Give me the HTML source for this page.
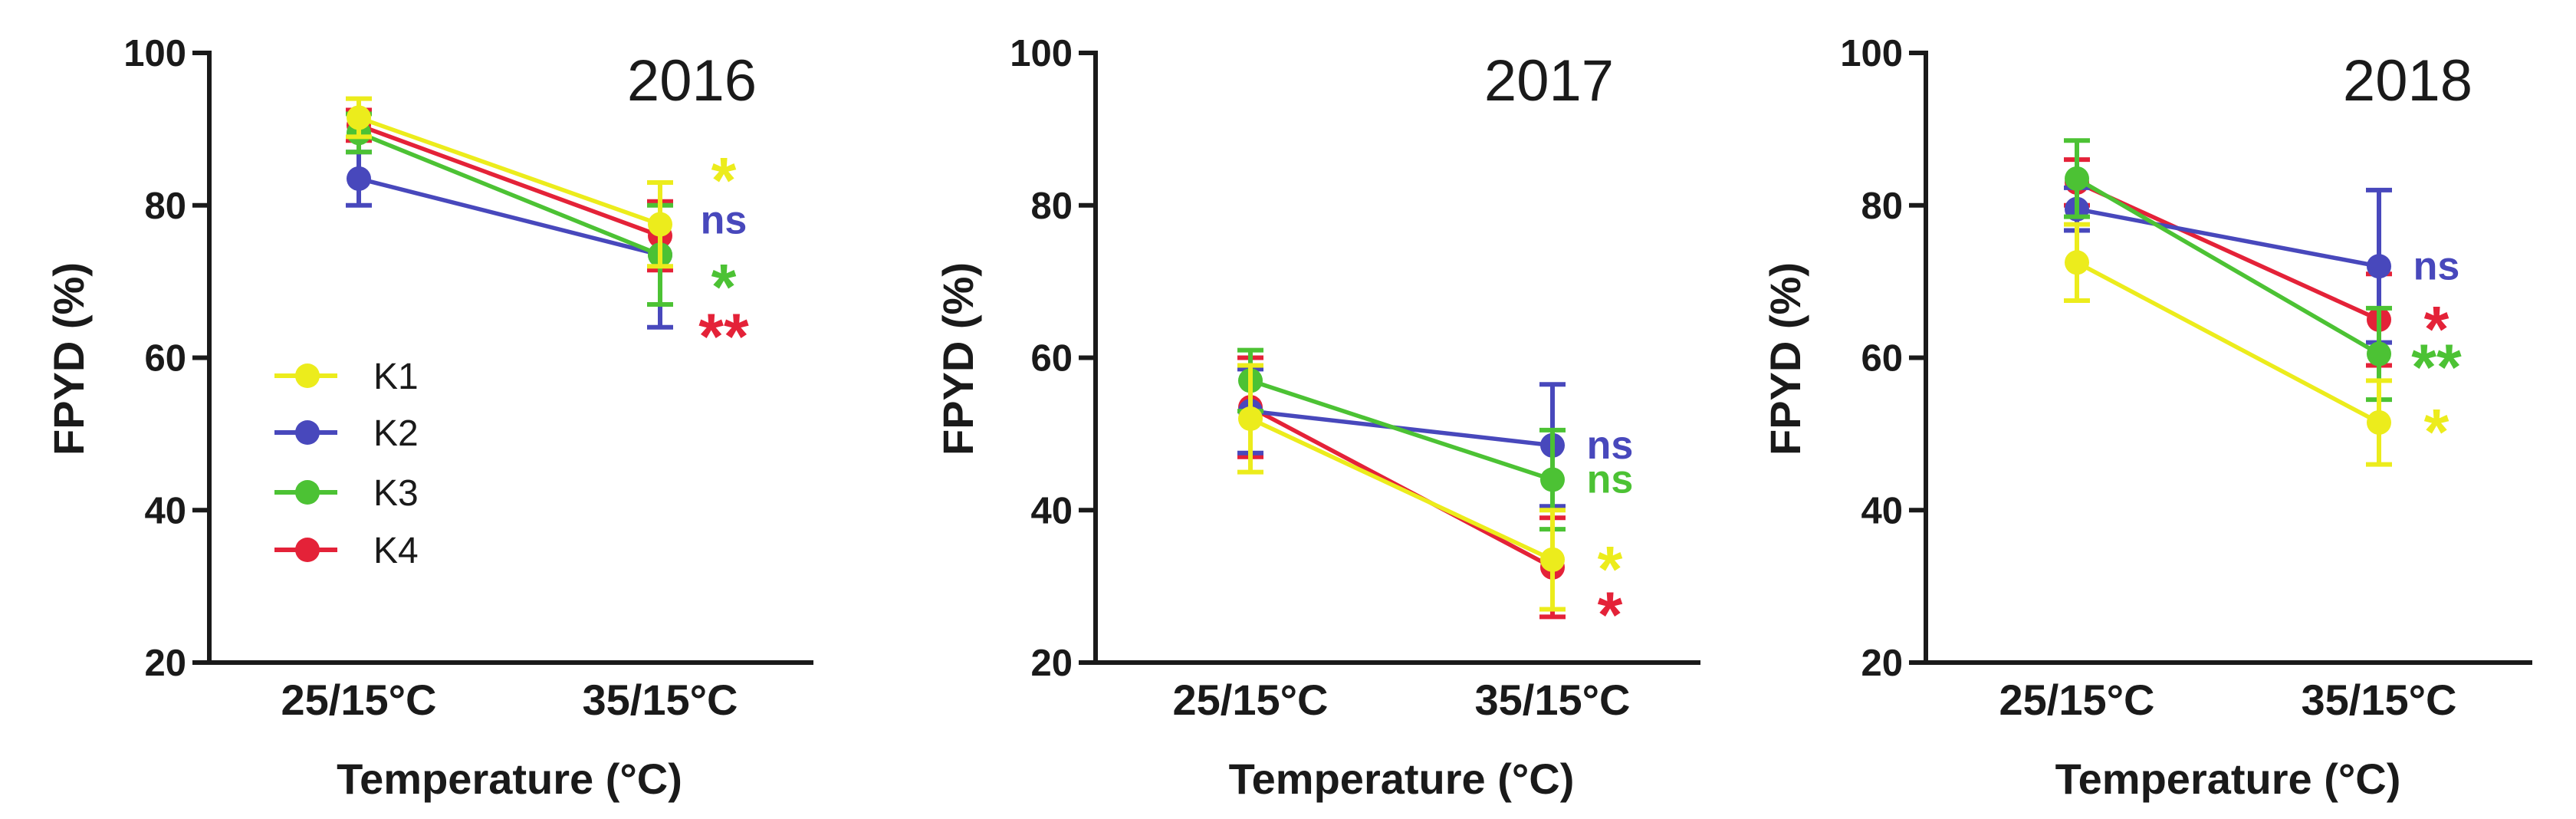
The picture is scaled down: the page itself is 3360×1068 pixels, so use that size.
<!DOCTYPE html>
<html><head><meta charset="utf-8"><style>
body{margin:0;background:#fff}
svg{display:block}
text{font-family:"Liberation Sans",Arial,sans-serif}
</style></head><body>
<svg id="chart" width="3360" height="1068" viewBox="0 0 3360 1068" xmlns="http://www.w3.org/2000/svg"></svg>
<script>
const categories = ["25/15°C","35/15°C"];
const seriesNames = ["K1","K2","K3","K4"];
const seriesColors = ["#ecec1c","#4848bc","#4cc234","#e42238"];
const yTicks = [20,40,60,80,100];
const years = ["2016","2017","2018"];
// values[series] = [v at 25/15, v at 35/15]
const values2016 = [[91.5,77.5],[83.5,73.5],[89.5,73.5],[90.5,76]];
const values2017 = [[52,33.5],[53,48.5],[57,44],[53.5,32.5]];
const values2018 = [[72.5,51.5],[79.5,72],[83.5,60.5],[83,65]];
const errors2016 = [[2.5,5.5],[3.5,9.5],[2.5,6.5],[2,4.5]];
const errors2017 = [[7,6.5],[5.5,8],[4,6.5],[6.5,6.5]];
const errors2018 = [[5,5.5],[2.8,10],[5,6],[3,6]];
const sig2016 = [["*",84],["ns",78],["*",70],["**",63.5]];
const sig2017 = [["*",33],["ns",48.5],["ns",44],["*",27]];
const sig2018 = [["*",51],["ns",72],["**",59.5],["*",64.5]];
const drawOrder = [3,1,2,0];

const panels = [
 {ax:273, xEnd:1061, cx:[468,861], vals:values2016, errs:errors2016, sig:sig2016, yr:years[0], yrX:987, sigX:944, legend:true},
 {ax:1429, xEnd:2218, cx:[1631,2025], vals:values2017, errs:errors2017, sig:sig2017, yr:years[1], yrX:2105, sigX:2100, legend:false},
 {ax:2512, xEnd:3303, cx:[2709,3103], vals:values2018, errs:errors2018, sig:sig2018, yr:years[2], yrX:3225, sigX:3178, legend:false}
];
const svg = document.getElementById('chart');
const NS = "http://www.w3.org/2000/svg";
function el(tag, attrs, parent){ const e=document.createElementNS(NS,tag); for(const k in attrs) e.setAttribute(k,attrs[k]); (parent||svg).appendChild(e); return e; }
const yTop=69, yBot=864;
function yScale(v){ return yBot - (v-20)/80*(yBot-yTop); }

panels.forEach((p,pi)=>{
  const g = el('g',{});
  
  
  const ya = el('line',{x1:p.ax,y1:yTop-3,x2:p.ax,y2:yBot+3,stroke:'#1a1a1a','stroke-width':6},g);
   
  const xa = el('line',{x1:p.ax-3,y1:yBot,x2:p.xEnd,y2:yBot,stroke:'#1a1a1a','stroke-width':6},g);
   
  yTicks.forEach(t=>{
    const y=yScale(t);
    const tk=el('line',{x1:p.ax-22,y1:y,x2:p.ax,y2:y,stroke:'#1a1a1a','stroke-width':6},g);
     
    const tl=el('text',{x:p.ax-30,y:y+17,'text-anchor':'end','font-size':49,'font-weight':'bold',fill:'#1a1a1a'},g);
    tl.textContent=t;
     
  });
  categories.forEach((c,i)=>{
    const tl=el('text',{x:p.cx[i],y:932,'text-anchor':'middle','font-size':56,'font-weight':'bold',fill:'#1a1a1a'},g);
    tl.textContent=c;
     
  });
  const xt=el('text',{x:(p.cx[0]+p.cx[1])/2,y:1035,'text-anchor':'middle','font-size':56,'font-weight':'bold',fill:'#1a1a1a'},g);
  xt.textContent='Temperature (°C)';
   
  const ytx=p.ax-183+(pi===1?4:0);
  const yt=el('text',{x:ytx,y:468,'text-anchor':'middle','font-size':56,'font-weight':'bold',fill:'#1a1a1a',transform:`rotate(-90 ${ytx} 468)`,dy:19},g);
  yt.textContent='FPYD (%)';
   
  const yr=el('text',{x:p.yrX,y:131,'text-anchor':'end','font-size':76,fill:'#1a1a1a'},g);
  yr.textContent=p.yr;
   
  drawOrder.forEach(si=>{
    const v=p.vals[si];
    const col=seriesColors[si];
    const sg=el('g',{},g);
    
    
    v.forEach((val,i)=>{
      const e=p.errs[si][i], x=p.cx[i];
      const eb=el('path',{d:`M${x} ${yScale(val+e)}V${yScale(val-e)}M${x-17} ${yScale(val+e)}h34M${x-17} ${yScale(val-e)}h34`,stroke:col,'stroke-width':6,fill:'none'},sg);
       
    });
    const ln=el('line',{x1:p.cx[0],y1:yScale(v[0]),x2:p.cx[1],y2:yScale(v[1]),stroke:col,'stroke-width':5.5},sg);
     
    v.forEach((val,i)=>{
      const pt=el('circle',{cx:p.cx[i],cy:yScale(val),r:16,fill:col},sg);
       
    });
  });
  p.sig.forEach((s,si)=>{
    const isNs=s[0]==='ns';
    const t=el('text',{x:p.sigX,y:yScale(s[1])+(isNs?17:36),'text-anchor':'middle','font-size':isNs?52:84,'font-weight':'bold',fill:seriesColors[si]},g);
    t.textContent=s[0];
     
  });
  if(p.legend){
    const lg=el('g',{},g);
     
    const ly=[490,564,642,717];
    seriesNames.forEach((n,si)=>{
      const eg=el('g',{},lg);
       
      el('line',{x1:358,y1:ly[si],x2:440,y2:ly[si],stroke:seriesColors[si],'stroke-width':6},eg);
      el('circle',{cx:401,cy:ly[si],r:16,fill:seriesColors[si]},eg);
      const t=el('text',{x:487,y:ly[si]+17,'font-size':48,fill:'#1a1a1a'},eg);
      t.textContent=n;
    });
  }
});
</script>
</body></html>
